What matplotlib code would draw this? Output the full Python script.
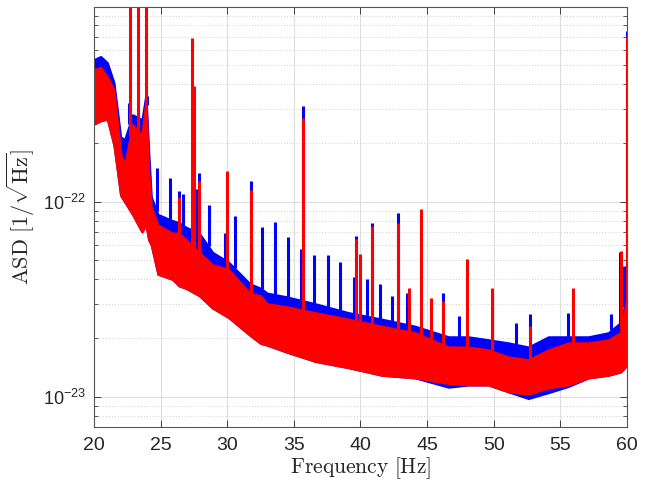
import numpy as np
import matplotlib
matplotlib.use("Agg")
import matplotlib.pyplot as plt
from matplotlib.ticker import FixedLocator, LogLocator, NullFormatter, FuncFormatter

plt.rcParams["mathtext.fontset"] = "custom"
plt.rcParams["mathtext.rm"] = "Liberation Sans"
plt.rcParams["mathtext.it"] = "Liberation Sans:italic"
plt.rcParams["font.family"] = ["Liberation Sans", "DejaVu Sans"]

# --------------------------------------------------
# Data (ASD in units of 1e-23 / sqrt(Hz))
# --------------------------------------------------
UNIT = 1e-23

# envelope of the broadband noise floor
band_freq = [20.0, 20.5, 21.0, 21.5, 22.0, 22.3, 22.9, 23.6, 23.9, 24.1, 24.3,
             24.8, 25.9, 26.4, 26.9, 27.9, 28.9, 30.1, 31.7, 32.5, 33.0, 34.4,
             36.6, 39.1, 41.6, 44.1, 46.6, 48.1, 49.6, 51.1, 52.6, 54.1, 55.6,
             57.1, 58.6, 59.5, 59.8, 60.0]
blue_top = [53.5, 55.5, 51.6, 40.7, 21.5, 20.8, 27.9, 26.3, 35.4, 18.5, 10.6,
            8.6, 8.0, 7.8, 7.4, 6.9, 5.5, 4.9, 3.8, 3.6, 3.4, 3.26,
            3.0, 2.7, 2.5, 2.3, 2.03, 2.03, 1.96, 1.89, 1.80, 2.03, 2.03,
            2.03, 2.13, 2.4, 2.9, 3.5]
blue_bot = [25.0, 26.0, 26.5, 19.5, 10.8, 10.0, 8.6, 7.0, 7.6, 6.4, 6.0,
            4.25, 4.0, 3.7, 3.6, 3.3, 2.85, 2.55, 2.07, 1.88, 1.84, 1.7,
            1.52, 1.41, 1.29, 1.25, 1.12, 1.15, 1.15, 1.06, 0.98, 1.05, 1.13,
            1.25, 1.29, 1.34, 1.4, 1.48]
red_top = [47.6, 48.8, 43.7, 37.5, 17.8, 15.5, 24.8, 22.1, 33.3, 14.6, 9.4,
           7.6, 6.9, 6.9, 6.4, 5.5, 4.75, 4.5, 3.4, 3.3, 3.0, 2.9,
           2.7, 2.5, 2.3, 2.13, 1.80, 1.80, 1.74, 1.60, 1.55, 1.74, 1.89,
           1.89, 1.96, 2.13, 2.7, 3.3]
red_bot = [25.0, 26.0, 26.5, 19.5, 10.8, 10.0, 8.6, 7.0, 7.6, 6.4, 6.0,
           4.25, 4.0, 3.7, 3.6, 3.3, 2.85, 2.55, 2.07, 1.88, 1.84, 1.7,
           1.52, 1.41, 1.29, 1.25, 1.17, 1.15, 1.15, 1.06, 1.03, 1.11, 1.15,
           1.25, 1.29, 1.34, 1.4, 1.48]

# narrow spectral lines
blue_line_freq = [22.65, 23.28, 23.95, 24.7, 25.7, 26.4, 26.7, 27.65, 27.9,
                  28.6, 29.8, 30.6, 31.8, 32.6, 33.6, 34.55, 35.5, 35.7, 36.5,
                  37.55, 38.5, 39.5, 39.7, 40.5, 40.85, 41.45, 42.4, 42.8,
                  43.5, 46.2, 47.4, 51.65, 52.75, 55.55, 58.8, 59.5, 59.8, 60.0]
blue_line_asd = [32.0, 29.5, 35.0, 14.9, 13.3, 11.3, 10.9, 11.6, 14.0,
                 9.6, 6.9, 8.4, 12.7, 7.4, 7.9, 6.6, 5.7, 31.0, 5.3,
                 5.3, 4.9, 4.1, 6.7, 4.0, 7.8, 3.8, 3.3, 8.7,
                 3.4, 3.4, 2.6, 2.4, 2.65, 2.7, 2.65, 5.5, 4.7, 75.0]
red_line_freq = [22.7, 23.33, 23.9, 26.4, 27.33, 27.5, 27.9, 30.0, 31.8,
                 35.7, 39.7, 40.0, 40.85, 42.8, 43.65, 44.55, 45.3, 46.2,
                 48.0, 49.9, 52.75, 55.95, 59.55, 60.0]
red_line_asd = [200.0, 200.0, 200.0, 10.6, 69.0, 39.0, 12.7, 14.3, 11.5,
                27.0, 6.4, 5.4, 7.5, 7.8, 3.6, 9.2, 3.2, 3.1,
                5.1, 3.6, 2.3, 3.6, 5.6, 70.0]

x_ticks = [20, 25, 30, 35, 40, 45, 50, 55, 60]
y_ticks = [1e-23, 1e-22]


# --------------------------------------------------
# Plot
# --------------------------------------------------
def scaled(values):
    return np.asarray(values) * UNIT


def draw_series(ax, color, top, bot, line_freq, line_asd):
    ax.fill_between(band_freq, scaled(bot), scaled(top), color=color,
                    linewidth=1.5, edgecolor=color, zorder=2)
    base = np.interp(line_freq, band_freq, top)
    ax.vlines(line_freq, scaled(base), scaled(line_asd), color=color,
              linewidth=2.2, zorder=2)


fig = plt.figure(figsize=(6.49, 4.8), dpi=100)
ax = fig.add_axes([0.1448, 0.1104, 0.8213, 0.875])

draw_series(ax, "#0000ff", blue_top, blue_bot, blue_line_freq, blue_line_asd)
draw_series(ax, "#ff0000", red_top, red_bot, red_line_freq, red_line_asd)

ax.set_yscale("log")
ax.set_xlim(20, 60)
ax.set_ylim(7.0e-24, 9.95e-22)

ax.xaxis.set_major_locator(FixedLocator(x_ticks))
ax.yaxis.set_major_locator(FixedLocator(y_ticks))
ax.yaxis.set_minor_locator(LogLocator(base=10, subs=np.arange(2, 10)))
ax.yaxis.set_minor_formatter(NullFormatter())
ax.yaxis.set_major_formatter(
    FuncFormatter(lambda v, pos: r"$10^{%d}$" % round(np.log10(v))))

ax.grid(True, which="major", color="#dedede", linewidth=0.8, linestyle="-")
ax.grid(True, which="minor", axis="y", color="#d0d0d0", linewidth=0.7,
        linestyle=(0, (1, 2)))
ax.set_axisbelow(True)

ax.tick_params(which="both", direction="in", top=True, right=True,
               color="#404040", labelcolor="#262626")
ax.tick_params(which="major", length=5, width=0.7)
ax.tick_params(axis="x", labelsize=14, pad=7)
ax.tick_params(axis="y", labelsize=13, pad=6)
ax.tick_params(which="minor", length=3, width=0.6)
for spine in ax.spines.values():
    spine.set_color("#555555")
    spine.set_linewidth(0.8)

ax.set_xlabel(r"$\mathrm{Frequency}\ [\mathrm{Hz}]$", fontsize=15.5,
              math_fontfamily="cm", color="#262626", labelpad=1)
ax.set_ylabel(r"$\mathrm{ASD}\ [1/\sqrt{\mathrm{Hz}}]$", fontsize=16,
              math_fontfamily="cm", color="#262626", labelpad=4)

fig.savefig("out.png", dpi=100)
plt.close(fig)
